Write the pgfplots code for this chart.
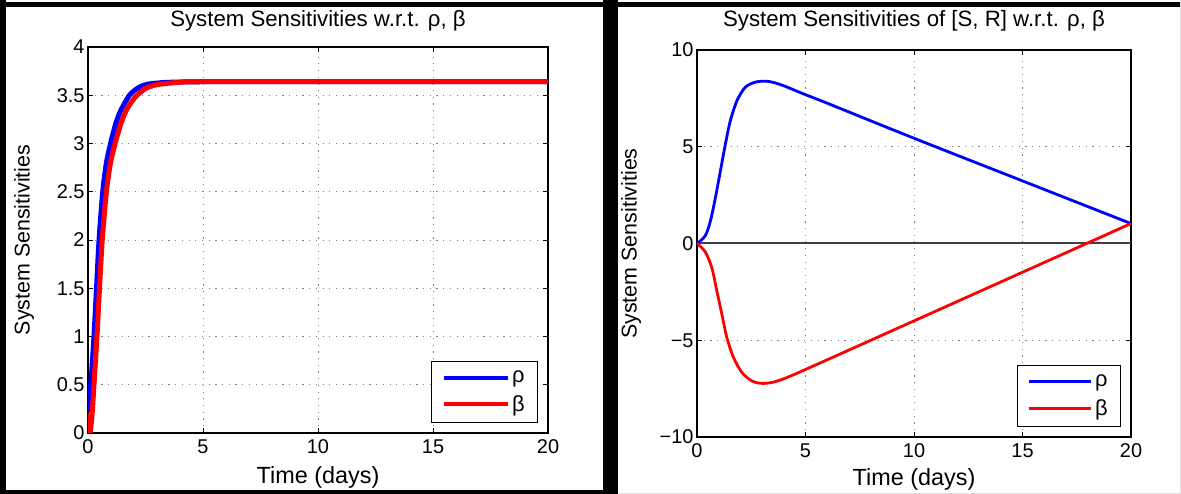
\documentclass[border=0pt]{standalone}
\usepackage{pgfplots}
\pgfplotsset{compat=1.18}
\usepackage{fontspec}
\setmainfont{Liberation Sans}
\definecolor{mblue}{RGB}{0,0,255}
\definecolor{mred}{RGB}{255,0,0}
\pgfplotsset{
  mat/.style={
    scale only axis,
    axis line style={black, line width=1.4bp},
    tick align=inside,
    major tick length=5bp,
    tick style={black, line width=0.9bp},
    grid=major,
    major grid style={gray, line width=0.9bp, dash pattern=on 1.2bp off 5.5bp},
    /pgf/number format/assume math mode=true,
    tick label style={font=\fontsize{20}{24}\selectfont},
    xticklabel style={yshift=-3bp},
    xlabel style={font=\fontsize{23.5}{28}\selectfont},
    ylabel style={font=\fontsize{21.5}{26}\selectfont},
    title style={font=\fontsize{22.3}{26}\selectfont},
    xmin=0, xmax=20,
    xtick={0,5,10,15,20},
    legend cell align=left,
    legend style={draw=black, line width=1.4bp, font=\fontsize{22}{26}\selectfont,
      anchor=south east, inner xsep=10bp, inner ysep=7bp, row sep=6bp,
      nodes={inner sep=2.5bp}},
  }
}
\begin{document}
\begin{tikzpicture}
\fill[white] (0,0) rectangle (1181bp,494bp);
\fill[black] (0,486.5bp) rectangle (1181bp,491.5bp);
\fill[black] (0,0) rectangle (6bp,494bp);
\fill[black] (0,0) rectangle (603bp,4bp);
\fill[black] (603bp,0) rectangle (618bp,494bp);
\fill[black!12] (1180bp,0) rectangle (1181bp,494bp);
\fill[black!12] (619bp,0) rectangle (1181bp,1bp);

% ---------- Left panel ----------
\begin{axis}[mat,
  at={(88bp,61bp)}, anchor=south west,
  width=460bp, height=386bp,
  ymin=0, ymax=4,
  ytick={0,0.5,1,1.5,2,2.5,3,3.5,4},
  yticklabels={0,0.5,1,1.5,2,2.5,3,3.5,4},
  title={System Sensitivities w.r.t. ρ, β},
  title style={at={(axis description cs:0.5,1)}, anchor=base, yshift=15bp},
  xlabel={Time (days)},
  xlabel style={at={(axis description cs:0.5,0)}, anchor=base, yshift=-50bp},
  ylabel={System Sensitivities},
  ylabel style={at={(axis description cs:0,0.5)}, anchor=center, yshift=64bp},
  legend style={at={(axis description cs:1,0)}, xshift=-10bp, yshift=10bp},
  legend image code/.code={\draw[#1, line width=4bp] (0bp,0bp) -- (64bp,0bp);},
]
\addplot[mblue, line width=5bp, smooth, tension=0.4] coordinates {
(0,0.22) (0.05,0.27) (0.15,0.6) (0.26,1.0) (0.37,1.5) (0.48,2.0) (0.64,2.5)
(0.8,2.8) (1.0,3.02) (1.2,3.2) (1.4,3.33) (1.8,3.5) (2.2,3.58) (2.6,3.615)
(3.3,3.632) (4,3.637) (5,3.64) (10,3.64) (15,3.64) (20,3.64)};
\addlegendentry{ρ}
\addplot[mred, line width=5bp, smooth, tension=0.4] coordinates {
(0,0.2) (0.03,0.05) (0.1,0.02) (0.18,0.2) (0.26,0.5) (0.39,1.0) (0.5,1.5)
(0.62,2.0) (0.8,2.5) (0.98,2.8) (1.2,3.02) (1.45,3.22) (1.7,3.36) (2.05,3.48)
(2.5,3.57) (3,3.61) (4,3.635) (5,3.64) (10,3.64) (15,3.64) (20,3.64)};
\addlegendentry{β}
\end{axis}

% ---------- Right panel ----------
\begin{axis}[mat,
  at={(697bp,57bp)}, anchor=south west,
  width=434bp, height=387bp,
  ymin=-10, ymax=10,
  ytick={-10,-5,0,5,10},
  yticklabels={−10,−5,0,5,10},
  title={System Sensitivities of [S, R] w.r.t. ρ, β},
  title style={at={(axis description cs:0.5,1)}, anchor=base, yshift=18bp},
  xlabel={Time (days)},
  xlabel style={at={(axis description cs:0.5,0)}, anchor=base, yshift=-48bp},
  ylabel={System Sensitivities},
  ylabel style={at={(axis description cs:0,0.5)}, anchor=center, yshift=66bp},
  legend style={at={(axis description cs:1,0)}, xshift=-10bp, yshift=10bp},
  legend image code/.code={\draw[#1, line width=3bp] (0bp,0bp) -- (62bp,0bp);},
]
\addplot[black!75, line width=2bp, forget plot] coordinates {(0,0) (20,0)};
\addplot[mblue, line width=2.8bp, smooth, tension=0.5] coordinates {
(0,0) (0.38,0.4) (0.62,1.17) (0.85,2.38) (1.08,3.76) (1.31,5.15) (1.54,6.36)
(1.85,7.4) (2.23,8.08) (2.69,8.34) (3.15,8.39) (3.5,8.33) (4.0,8.15)
(4.5,7.92) (5,7.69) (6,7.25) (10,5.44) (15,3.235) (20,1.03)};
\addlegendentry{ρ}
\addplot[mred, line width=2.8bp, smooth, tension=0.5] coordinates {
(0,0) (0.38,-0.43) (0.69,-1.28) (0.92,-2.48) (1.15,-3.68) (1.38,-4.88)
(1.69,-5.91) (2.08,-6.68) (2.54,-7.11) (3.0,-7.23) (3.5,-7.17) (4.0,-6.99)
(4.5,-6.76) (5,-6.51) (6,-6.01) (10,-4.0) (15,-1.485) (20,1.03)};
\addlegendentry{β}
\end{axis}
\end{tikzpicture}
\end{document}
